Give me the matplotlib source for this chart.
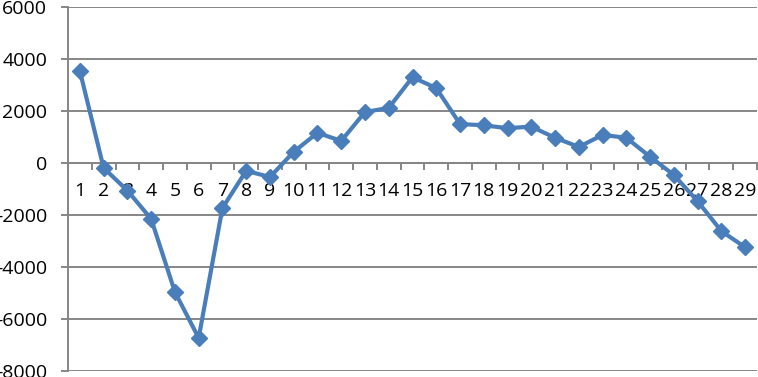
import matplotlib
matplotlib.use("Agg")
import matplotlib.pyplot as plt
import numpy as np

# ── data ─────────────────────────────────────────────────────────────────────
days = list(range(1, 30))
values = [3540, -190, -1060, -2150, -4960, -6730, -1730, -300, -540, 430,
          1160, 850, 1960, 2120, 3300, 2880, 1500, 1450, 1340, 1400,
          970, 620, 1080, 970, 240, -460, -1470, -2620, -3240]
yticks = [-8000, -6000, -4000, -2000, 0, 2000, 4000, 6000]

plt.rcParams["font.family"] = ["Open Sans", "DejaVu Sans"]

fig = plt.figure(figsize=(7.58, 3.77), dpi=100)
ax = fig.add_axes([0.0897, 0.0159, 0.9090, 0.9655])

grid_c = "#868686"
line_c = "#4a7ebb"

ax.plot(days, values, color=line_c, lw=3.0, marker="D", ms=8.5,
        mec=line_c, mfc=line_c, zorder=3, clip_on=False)

ax.set_xlim(0.5, 29.5)
ax.set_ylim(-8000, 6000)
ax.set_yticks(yticks)
ax.set_yticklabels([str(v) for v in yticks])
ax.yaxis.grid(True, color=grid_c, lw=1.4)
ax.set_axisbelow(True)

# category labels sit under the zero line, ticks between categories
ax.spines["bottom"].set_position(("data", 0))
ax.spines["bottom"].set_color(grid_c)
ax.spines["bottom"].set_linewidth(1.4)
ax.spines["left"].set_color(grid_c)
ax.spines["left"].set_linewidth(1.4)
ax.spines["top"].set_visible(False)
ax.spines["right"].set_visible(False)

ax.set_xticks(days)
ax.set_xticklabels([str(d) for d in days])
ax.set_xticks(np.arange(0.5, 30, 1), minor=True)
ax.tick_params(axis="x", which="major", length=0, pad=14, labelsize=14)
ax.tick_params(axis="x", which="minor", length=5, color=grid_c, width=1.4,
               direction="out")
ax.tick_params(axis="y", length=5, color=grid_c, width=1.4, pad=10,
               labelsize=14)

fig.savefig("out.png", dpi=100)
